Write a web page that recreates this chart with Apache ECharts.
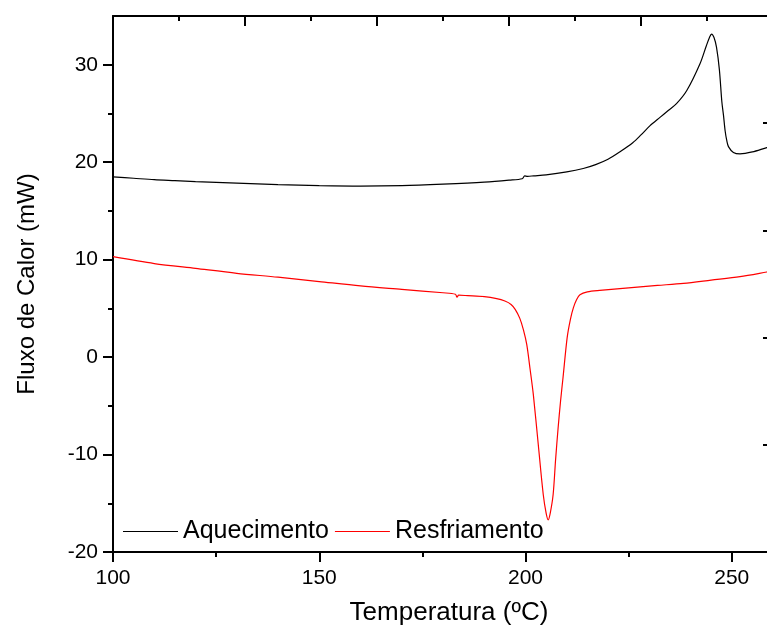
<!DOCTYPE html>
<html>
<head>
<meta charset="utf-8">
<script src="https://cdn.jsdelivr.net/npm/echarts@6/dist/echarts.min.js"></script>
<style>
html,body{margin:0;padding:0;background:#fff;}
#chart{width:767px;height:627px;}
</style>
</head>
<body>
<div id="chart"></div>
<script>
// Data
const aquecT = [100,105,110,115,120,130,140,150,160,170,180,190,196,199.2,199.8,200.5,202,205,210,214,217,220,223,226,228,230.2,232.6,234.6,236.6,239.1,242.3,243.8,244.6,245.1,245.7,246.3,247.0,247.6,248.0,248.4,248.8,249.2,250.4,252,255,258.5,260];
const aquecV = [18.5,18.35,18.2,18.1,18.0,17.85,17.7,17.6,17.55,17.6,17.75,17.95,18.15,18.3,18.6,18.55,18.6,18.7,19.0,19.35,19.75,20.3,21.1,22.0,22.8,23.75,24.6,25.3,26.0,27.35,30.1,31.9,32.8,33.15,32.8,31.8,29.5,26.2,24.8,23.2,22.2,21.6,21.0,20.85,21.05,21.5,21.65];
const resfT = [100,110,120,130,140,150,160,170,180,183,183.4,183.8,186,190,193,195,196.5,197.5,198.6,199.5,200.3,201.1,201.9,203.1,204.3,205,205.5,206,206.7,207.3,207.9,208.5,209.1,210.1,210.9,211.6,212.4,213.2,215,218,225,232,238.3,245,252,258.5,260];
const resfV = [10.3,9.6,9.1,8.6,8.2,7.75,7.3,6.95,6.6,6.45,6.15,6.35,6.3,6.2,6.0,5.75,5.4,4.9,4.0,2.8,1.3,-1.2,-3.85,-9.0,-14.1,-16.0,-16.7,-16.0,-14.1,-10.5,-7.3,-4.5,-2.1,2.0,3.9,5.05,5.9,6.4,6.7,6.85,7.1,7.35,7.57,7.9,8.25,8.73,8.85];
const xMajor = [100,150,200,250];
const xMinor = [125,175,225];
const yMajor = [-20,-10,0,10,20,30];
const yMinor = [-15,-5,5,15,25];
const seriesNames = ['Aquecimento','Resfriamento'];

const font = '"Liberation Sans",Arial,sans-serif';
const zip = (a,b) => a.map((t,i)=>[t,b[i]]);

const chart = echarts.init(document.getElementById('chart'), null, {renderer:'canvas'});
const gridPos = {left:113, top:16, right:-6, bottom:75, containLabel:false, outerBoundsMode:'none'};
const axisLineStyle = {color:'#000', width:2};
chart.setOption({
  animation:false,
  backgroundColor:'#fff',
  grid:[Object.assign({}, gridPos), Object.assign({}, gridPos)],
  legend:{
    left:118, top:514, itemWidth:55, itemHeight:1, itemGap:6, icon:'rect',
    textStyle:{fontFamily:font, fontSize:25, color:'#000'},
    data:seriesNames
  },
  xAxis:[
    {type:'value', gridIndex:0, position:'bottom', min:100, max:260, interval:50,
     axisLine:{show:true, onZero:false, lineStyle:axisLineStyle},
     axisTick:{show:true, inside:false, length:10, lineStyle:{color:'#000', width:2}, customValues:xMajor},
     axisLabel:{show:true, customValues:xMajor, margin:16, color:'#000', fontFamily:font, fontSize:21},
     splitLine:{show:false},
     name:'Temperatura (ºC)', nameLocation:'middle', nameGap:48,
     nameTextStyle:{fontFamily:font, fontSize:26, color:'#000', padding:[0,0,0,12]}},
    {type:'value', gridIndex:0, position:'top', min:0, max:10, interval:2,
     axisLine:{show:true, onZero:false, lineStyle:axisLineStyle},
     axisTick:{show:true, inside:true, length:10, lineStyle:{color:'#000', width:2}},
     minorTick:{show:true, splitNumber:2, length:5, lineStyle:{color:'#000', width:2}},
     axisLabel:{show:false}, splitLine:{show:false}},
    {type:'value', gridIndex:1, position:'bottom', min:100, max:260,
     axisLine:{show:false, onZero:false},
     axisTick:{show:true, inside:false, length:5, lineStyle:{color:'#000', width:2}, customValues:xMinor},
     axisLabel:{show:false}, splitLine:{show:false}}
  ],
  yAxis:[
    {type:'value', gridIndex:0, position:'left', min:-20, max:35, interval:5,
     axisLine:{show:true, onZero:false, lineStyle:axisLineStyle},
     axisTick:{show:true, inside:false, length:10, lineStyle:{color:'#000', width:2}, customValues:yMajor},
     axisLabel:{show:true, customValues:yMajor, margin:15, color:'#000', fontFamily:font, fontSize:21},
     splitLine:{show:false},
     name:'Fluxo de Calor (mW)', nameLocation:'middle', nameGap:74, nameRotate:90,
     nameTextStyle:{fontFamily:font, fontSize:24, color:'#000'}},
    {type:'value', gridIndex:0, position:'right', min:0, max:5, interval:1,
     axisLine:{show:true, onZero:false, lineStyle:axisLineStyle},
     axisTick:{show:true, inside:true, length:10, lineStyle:{color:'#000', width:2}},
     minorTick:{show:true, splitNumber:2, length:5, lineStyle:{color:'#000', width:2}},
     axisLabel:{show:false}, splitLine:{show:false}},
    {type:'value', gridIndex:1, position:'left', min:-20, max:35,
     axisLine:{show:false, onZero:false},
     axisTick:{show:true, inside:false, length:5, lineStyle:{color:'#000', width:2}, customValues:yMinor},
     axisLabel:{show:false}, splitLine:{show:false}}
  ],
  series:[
    {name:seriesNames[0], type:'line', xAxisIndex:0, yAxisIndex:0, data:zip(aquecT,aquecV),
     symbol:'none', smooth:0.3, lineStyle:{color:'#000', width:1.2}, itemStyle:{color:'#000'}},
    {name:seriesNames[1], type:'line', xAxisIndex:0, yAxisIndex:0, data:zip(resfT,resfV),
     symbol:'none', smooth:0.3, lineStyle:{color:'#ff0000', width:1.2}, itemStyle:{color:'#ff0000'}}
  ]
});
</script>
</body>
</html>
